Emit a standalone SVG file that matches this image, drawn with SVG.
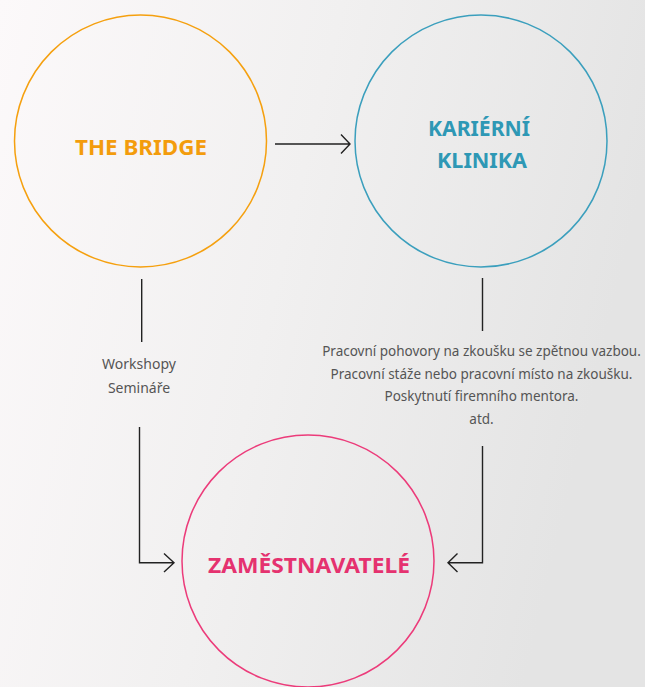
<svg xmlns="http://www.w3.org/2000/svg" width="645" height="687" viewBox="0 0 645 687">
<defs>
<linearGradient id="bg" x1="0" y1="0" x2="1" y2="0.25">
<stop offset="0" stop-color="#fcf9fa"/>
<stop offset="0.5" stop-color="#f1f0f0"/>
<stop offset="1" stop-color="#e4e4e4"/>
</linearGradient>
<style>
.node{fill:none;stroke-width:1.5}
.lbl{font-family:"Noto Sans","Open Sans",sans-serif;font-weight:bold;text-anchor:middle;font-size:21px}
.sm{font-family:"Noto Sans","Open Sans",sans-serif;fill:#555;text-anchor:middle}
.con{fill:none;stroke:#222;stroke-width:1.4}
</style>
</defs>
<rect width="645" height="687" fill="url(#bg)"/>
<g id="the-bridge">
<circle class="node" cx="140.5" cy="141" r="126" stroke="#f5a00f"/>
<text class="lbl" x="141" y="154.5" fill="#f39c0c" textLength="132" lengthAdjust="spacingAndGlyphs">THE BRIDGE</text>
</g>
<g id="karierni-klinika">
<circle class="node" cx="481" cy="141" r="126" stroke="#3b9fbd"/>
<text class="lbl" x="479" y="136" fill="#2e98b5" textLength="102" lengthAdjust="spacingAndGlyphs">KARIÉRNÍ</text>
<text class="lbl" x="482" y="168" fill="#2e98b5" textLength="90" lengthAdjust="spacingAndGlyphs">KLINIKA</text>
</g>
<g id="zamestnavatele">
<circle class="node" cx="308" cy="561" r="126" stroke="#ec3b7a"/>
<text class="lbl" x="309" y="572.5" fill="#e5326f" textLength="202" lengthAdjust="spacingAndGlyphs">ZAMĚSTNAVATELÉ</text>
</g>
<g id="connectors">
<path class="con" d="M275,144 H350 M341,134.5 L350,144 L341,153.5"/>
<path class="con" d="M141.7,279 V342"/>
<path class="con" d="M139.5,427 V562.7 H174 M164,553.5 L174,562.7 L164,571.9"/>
<path class="con" d="M482.5,278 V331"/>
<path class="con" d="M482.5,446 V562.7 H448 M457.5,553.5 L448,562.7 L457.5,571.9"/>
<g id="labels">
<text class="sm" x="139" y="369" font-size="14">Workshopy</text>
<text class="sm" x="139" y="392.5" font-size="14">Semináře</text>
<text class="sm" x="481.5" y="356" font-size="13.5">Pracovní pohovory na zkoušku se zpětnou vazbou.</text>
<text class="sm" x="481.5" y="378.5" font-size="13.5">Pracovní stáže nebo pracovní místo na zkoušku.</text>
<text class="sm" x="481.5" y="401" font-size="13.5">Poskytnutí firemního mentora.</text>
<text class="sm" x="481.5" y="423.5" font-size="13.5">atd.</text>
</g>
</g>
</svg>
